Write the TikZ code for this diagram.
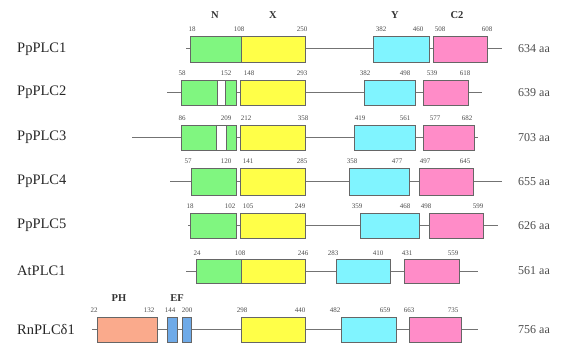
\documentclass[tikz,border=0pt]{standalone}
\usepackage{fontspec}
\setmainfont{Liberation Serif}
\usepackage{tikz}

\definecolor{ngreen}{RGB}{128,246,128}
\definecolor{xyellow}{RGB}{255,255,72}
\definecolor{ycyan}{RGB}{128,244,255}
\definecolor{cpink}{RGB}{255,140,200}
\definecolor{phsalmon}{RGB}{250,170,140}
\definecolor{efblue}{RGB}{110,170,232}

\begin{document}
\begin{tikzpicture}[x=1pt, y=-1pt,
  bone/.style={draw=black!55, line width=1pt},
  dbox/.style={draw=black!60, line width=0.9pt},
  num/.style={font=\fontsize{7}{8}\selectfont, text=black!70, inner sep=0pt, anchor=base},
  dname/.style={font=\fontsize{10.5}{12}\selectfont\bfseries, text=black!80, inner sep=0pt},
  plc/.style={font=\fontsize{14.5}{16}\selectfont, text=black!85, anchor=west, inner sep=0pt},
  len/.style={font=\fontsize{12}{14}\selectfont, text=black!70, anchor=west, inner sep=0pt}]
\useasboundingbox (0,0) rectangle (561,344);

\node[dname] (dn) at (215,15) {N};
\node[dname] (dx) at (273,15) {X};
\node[dname] (dy) at (395,15) {Y};
\node[dname] (dc) at (457,15) {C2};

% PpPLC1
\node[plc] (p1) at (17,49) {PpPLC1};
\coordinate (p1a) at (186,49); \coordinate (p1b) at (502,49);
\draw[bone] (p1a) -- (p1b);
\filldraw[dbox, fill=ngreen] (190,36) rectangle (241,62);
\filldraw[dbox, fill=xyellow] (241,36) rectangle (305,62);
\filldraw[dbox, fill=ycyan] (373,36) rectangle (429,62);
\filldraw[dbox, fill=cpink] (433,36) rectangle (487,62);
\node[len] (a1) at (518,49) {634 aa};
\foreach \x/\t in {192/18, 239/108, 302/250, 381/382, 418/460, 440/508, 487/608}
  \node[num] (n1-\t) at (\x,32) {\t};

% PpPLC2
\node[plc] (p2) at (17,92.5) {PpPLC2};
\coordinate (p2a) at (167,92.5); \coordinate (p2b) at (482,92.5);
\draw[bone] (p2a) -- (p2b);
\filldraw[dbox, fill=ngreen] (181,80) rectangle (236,105);
\filldraw[dbox, fill=white] (217,80) rectangle (225,105);
\filldraw[dbox, fill=xyellow] (240,80) rectangle (305,105);
\filldraw[dbox, fill=ycyan] (364,80) rectangle (415,105);
\filldraw[dbox, fill=cpink] (423,80) rectangle (468,105);
\node[len] (a2) at (518,92.5) {639 aa};
\foreach \x/\t in {182/58, 226/152, 249/148, 302/293, 365/382, 405/498, 432/539, 465/618}
  \node[num] (n2-\t) at (\x,76) {\t};

% PpPLC3
\node[plc] (p3) at (17,137.5) {PpPLC3};
\coordinate (p3a) at (132,137.5); \coordinate (p3b) at (478,137.5);
\draw[bone] (p3a) -- (p3b);
\filldraw[dbox, fill=ngreen] (181,125) rectangle (236,150);
\filldraw[dbox, fill=white] (216,125) rectangle (226,150);
\filldraw[dbox, fill=xyellow] (240,125) rectangle (305,150);
\filldraw[dbox, fill=ycyan] (354,125) rectangle (415,150);
\filldraw[dbox, fill=cpink] (423,125) rectangle (474,150);
\node[len] (a3) at (518,137.5) {703 aa};
\foreach \x/\t in {182/86, 226/209, 246/212, 303/358, 360/419, 405/561, 435/577, 467/682}
  \node[num] (n3-\t) at (\x,121) {\t};

% PpPLC4
\node[plc] (p4) at (17,181.5) {PpPLC4};
\coordinate (p4a) at (170,181.5); \coordinate (p4b) at (502,181.5);
\draw[bone] (p4a) -- (p4b);
\filldraw[dbox, fill=ngreen] (191,168) rectangle (236,195);
\filldraw[dbox, fill=xyellow] (240,168) rectangle (305,195);
\filldraw[dbox, fill=ycyan] (349,168) rectangle (409,195);
\filldraw[dbox, fill=cpink] (419,168) rectangle (473,195);
\node[len] (a4) at (518,181.5) {655 aa};
\foreach \x/\t in {188/57, 226/120, 248/141, 302/285, 352/358, 397/477, 425/497, 465/645}
  \node[num] (n4-\t) at (\x,164) {\t};

% PpPLC5
\node[plc] (p5) at (17,225.5) {PpPLC5};
\coordinate (p5a) at (188,225.5); \coordinate (p5b) at (498,225.5);
\draw[bone] (p5a) -- (p5b);
\filldraw[dbox, fill=ngreen] (190,213) rectangle (236,238);
\filldraw[dbox, fill=xyellow] (240,213) rectangle (305,238);
\filldraw[dbox, fill=ycyan] (360,213) rectangle (419,238);
\filldraw[dbox, fill=cpink] (429,213) rectangle (483,238);
\node[len] (a5) at (518,225.5) {626 aa};
\foreach \x/\t in {190/18, 230/102, 248/105, 300/249, 357/359, 405/468, 426/498, 478/599}
  \node[num] (n5-\t) at (\x,209) {\t};

% AtPLC1
\node[plc] (p6) at (17,271) {AtPLC1};
\coordinate (p6a) at (186,271); \coordinate (p6b) at (478,271);
\draw[bone] (p6a) -- (p6b);
\filldraw[dbox, fill=ngreen] (196,259) rectangle (241,283);
\filldraw[dbox, fill=xyellow] (241,259) rectangle (305,283);
\filldraw[dbox, fill=ycyan] (336,259) rectangle (390,283);
\filldraw[dbox, fill=cpink] (404,259) rectangle (459,283);
\node[len] (a6) at (518,271) {561 aa};
\foreach \x/\t in {197/24, 240/108, 303/246, 333/283, 378/410, 407/431, 453/559}
  \node[num] (n6-\t) at (\x,255) {\t};

% RnPLCd1
\node[dname] (dph) at (119,298) {PH};
\node[dname] (def) at (177,298) {EF};
\node[plc] (p7) at (17,329.5) {RnPLCδ1};
\coordinate (p7a) at (92,329.5); \coordinate (p7b) at (478,329.5);
\draw[bone] (p7a) -- (p7b);
\filldraw[dbox, fill=phsalmon] (97,317) rectangle (157,342);
\filldraw[dbox, fill=efblue] (167,317) rectangle (177,342);
\filldraw[dbox, fill=efblue] (182,317) rectangle (191,342);
\filldraw[dbox, fill=xyellow] (241,317) rectangle (305,342);
\filldraw[dbox, fill=ycyan] (341,317) rectangle (396,342);
\filldraw[dbox, fill=cpink] (409,317) rectangle (461,342);
\node[len] (a7) at (518,329.5) {756 aa};
\foreach \x/\t in {94/22, 149/132, 170/144, 187/200, 242/298, 300/440, 335/482, 385/659, 409/663, 453/735}
  \node[num] (n7-\t) at (\x,312) {\t};
\end{tikzpicture}
\end{document}
